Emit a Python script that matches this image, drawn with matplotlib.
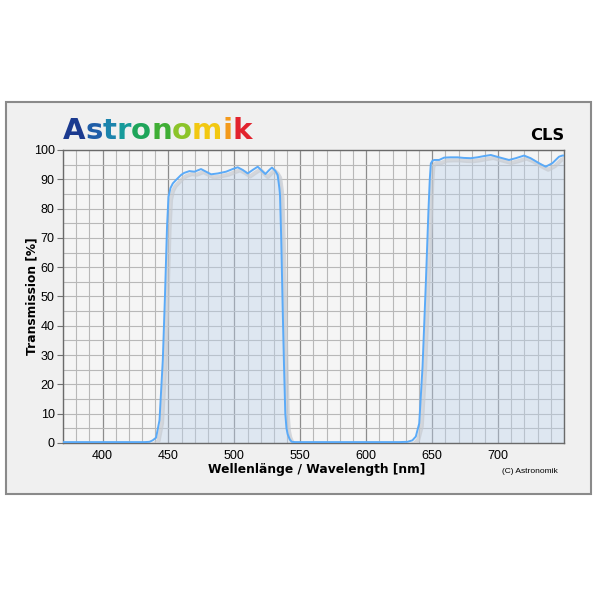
import matplotlib
matplotlib.use('Agg')
import matplotlib.pyplot as plt
import matplotlib.patches as patches
import matplotlib.transforms as mtransforms
from matplotlib.ticker import MultipleLocator

''' Transmission curve of the Astronomik CLS filter '''

# values
wavelength = [370, 400, 425, 432, 435.6, 438, 440.6, 443.2, 445.7, 447.4,
              448.9, 450, 451.5, 453.3, 455.8, 459.6, 462, 465.9, 469.7, 474.7,
              478.5, 482.3, 487.4, 493.7, 498.7, 502.5, 506.3, 510.1, 513.9, 517.7,
              520.2, 523.5, 526.5, 528.5, 531, 532.8, 534.1, 534.6, 535.5, 536.6,
              537.6, 538.6, 539.5, 540.4, 542, 543.5, 546, 560, 600, 625,
              631.3, 635, 637.6, 640.2, 642.7, 645.2, 647.2, 648.2, 649, 650.2,
              651.5, 655.3, 659.1, 664, 669.2, 674, 679.3, 684.3, 689, 694.5,
              700.8, 708.3, 713.4, 719.7, 724.7, 731, 736.1, 741.2, 746.2, 748.7,
              750]
transmission = [0.3, 0.3, 0.3, 0.3, 0.4, 0.9, 1.8, 7.8, 28.3, 51,
                73.8, 84, 87, 88.6, 89.8, 91.5, 92.2, 92.8, 92.6, 93.5,
                92.6, 91.7, 92, 92.6, 93.5, 94.1, 93.2, 92, 93.2, 94.3,
                93.2, 91.8, 93.2, 94, 92.9, 91.5, 87, 84.6, 70, 46.5,
                27, 10, 5, 3, 1.2, 0.4, 0.3, 0.3, 0.3, 0.3,
                0.4, 0.9, 2.2, 6.7, 26, 54.5, 79.5, 90, 95.4, 96.3,
                96.6, 96.6, 97.4, 97.5, 97.5, 97.3, 97.2, 97.5, 97.9, 98.3,
                97.5, 96.6, 97.2, 98.1, 97.2, 95.5, 94.3, 95.5, 97.7, 98.1,
                98.1]

x_ticks = [400, 450, 500, 550, 600, 650, 700]
y_ticks = [0, 10, 20, 30, 40, 50, 60, 70, 80, 90, 100]

logo_text = 'Astronomik'
logo_colors = ['#1b3a8f', '#1f5ea8', '#1b84ad', '#179b9b', '#1ea55a',
               '#3fae35', '#8cc42a', '#f2c811', '#f39a1c', '#e2232e']
filter_name = 'CLS'


def draw_logo(fig, x0, y0):
    # place every letter of the logo behind the previous one
    renderer = fig.canvas.get_renderer()
    fig_w = fig.get_figwidth() * fig.dpi
    for i, (ch, col) in enumerate(zip(logo_text, logo_colors)):
        dx = 0
        if i > 0:
            probe = fig.text(0, 0, logo_text[:i] + 'l', fontsize=21,
                             fontweight='bold', family='DejaVu Sans')
            probe_l = fig.text(0, 0, 'l', fontsize=21,
                               fontweight='bold', family='DejaVu Sans')
            dx = (probe.get_window_extent(renderer).width
                  - probe_l.get_window_extent(renderer).width) / fig_w
            probe.remove()
            probe_l.remove()
        fig.text(x0 + dx, y0, ch, color=col, fontsize=21, fontweight='bold',
                 family='DejaVu Sans', va='baseline', ha='left')


def main():
    plt.rcParams['font.family'] = ['Liberation Sans', 'DejaVu Sans']

    fig = plt.figure(figsize=(6, 6), dpi=100)
    fig.patch.set_facecolor('white')

    # grey card behind the chart
    panel = patches.Rectangle((0.01, 0.1767), 0.975, 0.653, transform=fig.transFigure,
                              facecolor='#f0f0f0', edgecolor='#8a8a8a', lw=1.5, zorder=-10)
    fig.add_artist(panel)

    ax = fig.add_axes([0.105, 0.2617, 0.835, 0.4883])
    ax.set_facecolor('#f5f5f5')

    # shadow curve, a bit to the right and down
    shadow = mtransforms.offset_copy(ax.transData, fig=fig, x=2.5, y=-3, units='dots')
    ax.fill_between(wavelength, transmission, 0, transform=shadow,
                    color='#bcd2ec', alpha=0.4, lw=0, zorder=2)
    ax.plot(wavelength, transmission, transform=shadow, color='#c6cad0',
            lw=3, alpha=0.7, zorder=3)
    ax.plot(wavelength, transmission, color='#5aaaf8', lw=1.4, zorder=4)

    ax.set_xlim(370, 750)
    ax.set_ylim(0, 100)
    ax.set_xticks(x_ticks)
    ax.set_yticks(y_ticks)
    ax.xaxis.set_minor_locator(MultipleLocator(10))
    ax.yaxis.set_minor_locator(MultipleLocator(5))

    ax.xaxis.grid(which='major', color='#8c8c8c', lw=0.9)
    ax.xaxis.grid(which='minor', color='#b8b8b8', lw=0.8)
    ax.yaxis.grid(which='both', color='#b8b8b8', lw=0.8)
    ax.set_axisbelow(True)

    ax.tick_params(axis='y', which='major', direction='out', length=4,
                   color='#707070', labelsize=9, pad=2)
    ax.tick_params(axis='x', which='major', length=0, labelsize=9, pad=5)
    ax.tick_params(which='minor', length=0)
    for sp in ax.spines.values():
        sp.set_color('#6a6a6a')
        sp.set_linewidth(1)

    # labels
    fig.text(0.527, 0.2167, 'Wellenlänge / Wavelength [nm]', ha='center', va='center',
             fontsize=8.8, fontweight='bold', family='DejaVu Sans')
    fig.text(0.0533, 0.5067, 'Transmission [%]', ha='center', va='center', rotation=90,
             fontsize=8.8, fontweight='bold', family='DejaVu Sans')
    fig.text(0.93, 0.2142, '(C) Astronomik', ha='right', va='center', fontsize=6)
    fig.text(0.94, 0.7667, filter_name, ha='right', va='baseline',
             fontsize=11.8, fontweight='bold', family='DejaVu Sans')

    draw_logo(fig, 0.105, 0.7683)

    fig.savefig('out.png', dpi=100)


if __name__ == "__main__":
    main()
